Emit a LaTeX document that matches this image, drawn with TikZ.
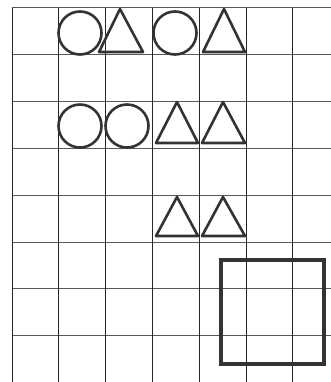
\documentclass[tikz,border=0pt]{standalone}
\begin{document}
\begin{tikzpicture}[x=1pt,y=-1pt,
  gridv/.style={draw=black!85, line width=1pt},
  gridh/.style={draw=black!65, line width=1pt},
  figline/.style={draw=black!80, line width=2.6pt, line join=round},
  bigsq/.style={draw=black!80, line width=4pt}]
\useasboundingbox[fill=white] (0,0) rectangle (331,382);
% horizontal grid lines
\foreach \j in {0,...,7} {
  \draw[gridh] (12,{8+46.8*\j}) -- (331,{8+46.8*\j});
}
% vertical grid lines
\foreach \i in {0,...,6} {
  \draw[gridv] ({12+46.8*\i},8) -- ({12+46.8*\i},382);
}
% row 1
\draw[figline] (80,33) circle (21.5);
\draw[figline] (120,9) -- (143,52) -- (99,52) -- cycle;
\draw[figline] (175,33) circle (21.5);
\draw[figline] (224,9) -- (245,52) -- (203,52) -- cycle;
% row 3
\draw[figline] (80,126) circle (21.5);
\draw[figline] (127,126) circle (21.5);
\draw[figline] (177,102) -- (198,143) -- (156,143) -- cycle;
\draw[figline] (223,102) -- (245,143) -- (202,143) -- cycle;
% row 5
\draw[figline] (177,197) -- (198,236) -- (156,236) -- cycle;
\draw[figline] (223,197) -- (245,236) -- (202,236) -- cycle;
% big square
\draw[bigsq] (221,260) rectangle (324,364);
\end{tikzpicture}
\end{document}
